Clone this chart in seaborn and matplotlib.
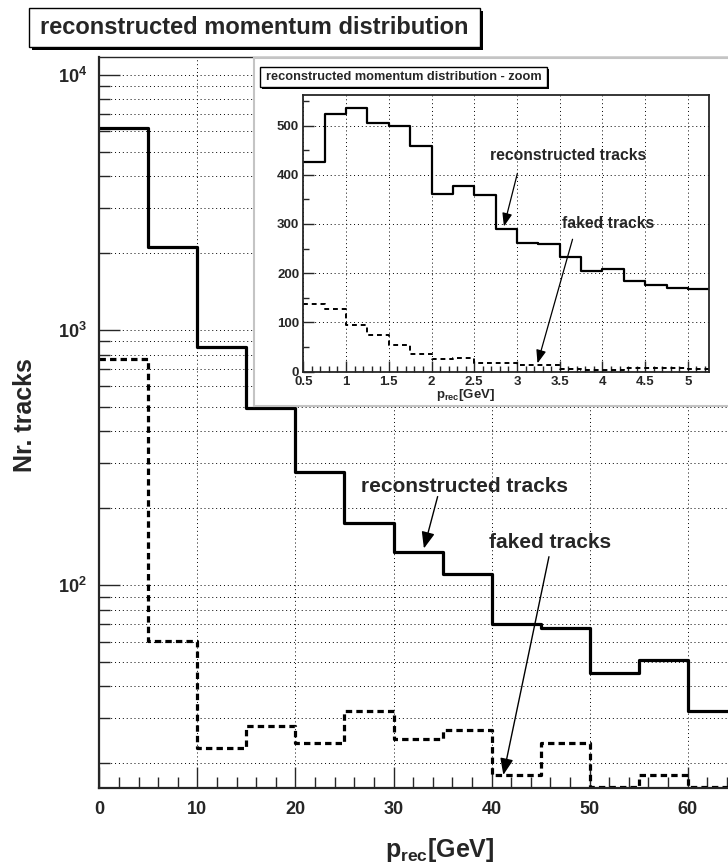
import numpy as np
import pandas as pd
import seaborn as sns
import matplotlib
matplotlib.use("Agg")
import matplotlib.pyplot as plt
from matplotlib.patches import Rectangle
from matplotlib.ticker import (MultipleLocator, FixedLocator, LogLocator,
                               NullFormatter, FuncFormatter)

# ---------------- data ----------------
main_edges = [0, 5, 10, 15, 20, 25, 30, 35, 40, 45, 50, 55, 60, 65]
main_reco = [6200, 2116, 860, 493, 278, 175, 134, 110, 70, 68, 45, 51, 32]
main_fake = [768, 60.5, 23, 28, 24, 32, 25, 27, 18, 24, 16.2, 18, 16.2]
main_xticks = [0, 10, 20, 30, 40, 50, 60]

zoom_edges = [0.5, 0.75, 1.0, 1.25, 1.5, 1.75, 2.0, 2.25, 2.5, 2.75, 3.0,
              3.25, 3.5, 3.75, 4.0, 4.25, 4.5, 4.75, 5.0, 5.25]
zoom_reco = [425, 523, 535, 505, 499, 459, 360, 377, 358, 289, 261, 260,
             232, 205, 208, 184, 176, 171, 168]
zoom_fake = [138, 128, 94, 75, 54, 36, 26, 28, 17, 17, 14, 14, 6, 4, 4, 7, 8, 7, 5]

title_main = "reconstructed momentum distribution"
title_zoom = "reconstructed momentum distribution - zoom"
lab_reco = "reconstructed tracks"
lab_fake = "faked tracks"

# ---------------- style ----------------
sns.set_style("ticks")
plt.rcParams["font.family"] = ["Liberation Sans", "DejaVu Sans"]
plt.rcParams["font.weight"] = "bold"
plt.rcParams["mathtext.fontset"] = "custom"
plt.rcParams["mathtext.rm"] = "Liberation Sans:bold"
plt.rcParams["mathtext.it"] = "Liberation Sans:bold"
plt.rcParams["mathtext.bf"] = "Liberation Sans:bold"

W, H = 728, 866
fig = plt.figure(figsize=(W / 100, H / 100), dpi=100)
fig.patch.set_facecolor("white")


def fx(px):
    return px / W


def fy(py):
    return 1 - py / H


def centers(edges):
    e = np.asarray(edges, dtype=float)
    return (e[:-1] + e[1:]) / 2


GRID = dict(color="black", lw=0.7, ls=(0, (1, 3)))

# ---------------- main axes ----------------
x0, xbot, ytop = 99.3, 788.3, 56.7
ppu = 9.807
ax = fig.add_axes([fx(x0), fy(xbot), 70 * ppu / W, (xbot - ytop) / H])
df_main = pd.DataFrame({"p": centers(main_edges), "reco": main_reco, "fake": main_fake})
sns.histplot(data=df_main, x="p", weights="reco", bins=main_edges, element="step",
             fill=False, color="black", linewidth=2.3, ax=ax)
sns.histplot(data=df_main, x="p", weights="fake", bins=main_edges, element="step",
             fill=False, color="black", linewidth=2.3, linestyle=(0, (2, 1.3)), ax=ax)
ax.set_yscale("log")
ax.set_xlim(0, 70)
ax.set_ylim(15.95, 11766)
ax.set_xlabel("")
ax.set_ylabel("")
ax.xaxis.set_major_locator(FixedLocator(main_xticks))
ax.xaxis.set_minor_locator(MultipleLocator(2))
ax.xaxis.set_major_formatter(FuncFormatter(lambda v, p: "%d" % v))
ax.yaxis.set_major_locator(LogLocator(base=10, numticks=10))
ax.yaxis.set_minor_locator(LogLocator(base=10, subs=np.arange(2, 10), numticks=20))
ax.yaxis.set_major_formatter(FuncFormatter(lambda v, p: r"$10^{%d}$" % round(np.log10(v))))
ax.yaxis.set_minor_formatter(NullFormatter())
ax.tick_params(which="major", direction="in", length=15, width=1, labelsize=13,
               top=False, right=False, pad=9)
ax.tick_params(which="minor", direction="in", length=8, width=1, top=False, right=False)
ax.grid(True, which="major", axis="both", **GRID)
ax.grid(True, which="minor", axis="y", **GRID)
ax.set_axisbelow(True)
for s in ["left", "bottom"]:
    ax.spines[s].set_linewidth(1.6)
ax.spines["top"].set_linewidth(1.0)
ax.spines["right"].set_visible(False)

ax.text(37.2, 244, lab_reco, ha="center", va="center", fontsize=15, fontweight="bold")
ax.annotate("", xy=(33.1, 139), xytext=(34.5, 222),
            arrowprops=dict(arrowstyle="-|>,head_length=1.0,head_width=0.4",
                            color="black", lw=1, shrinkA=0, shrinkB=0, mutation_scale=10))
ax.text(46.0, 146, lab_fake, ha="center", va="center", fontsize=15, fontweight="bold")
ax.annotate("", xy=(41.2, 18.0), xytext=(45.85, 129),
            arrowprops=dict(arrowstyle="-|>,head_length=1.0,head_width=0.4",
                            color="black", lw=1, shrinkA=0, shrinkB=0, mutation_scale=10))

fig.text(fx(25), fy(415), "Nr. tracks", rotation=90, ha="center", va="center",
         fontsize=18, fontweight="bold")
fig.text(fx(440), fy(850), r"$p_{rec}$[GeV]", ha="center", va="center",
         fontsize=18, fontweight="bold")

# ---------------- title box ----------------
def title_box(x1, y1, x2, y2, text, size, sh=3):
    fig.add_artist(Rectangle((fx(x1 + sh), fy(y2 + sh)), fx(x2 - x1), (y2 - y1) / H,
                             transform=fig.transFigure, facecolor="black",
                             edgecolor="none", zorder=10))
    fig.add_artist(Rectangle((fx(x1), fy(y2)), fx(x2 - x1), (y2 - y1) / H,
                             transform=fig.transFigure, facecolor="white",
                             edgecolor="black", lw=1, zorder=11))
    fig.text(fx((x1 + x2) / 2), fy((y1 + y2) / 2), text, ha="center", va="center",
             fontsize=size, fontweight="bold", zorder=12)


title_box(29, 8, 480, 47, title_main, 17)

# ---------------- inset pad ----------------
pad = fig.add_axes([fx(254.3), fy(406), fx(800 - 254.3), (406 - 58) / H])
pad.set_zorder(1)
pad.set_facecolor("white")
pad.set_xticks([])
pad.set_yticks([])
for s in pad.spines.values():
    s.set_color("#c4c4c4")
    s.set_linewidth(1.5)

# ---------------- inset axes ----------------
ix1, iy1, ix2, iy2 = 303.3, 95, 709.3, 371.7
ax2 = fig.add_axes([fx(ix1), fy(iy2), (ix2 - ix1) / W, (iy2 - iy1) / H])
ax2.set_zorder(2)
df_zoom = pd.DataFrame({"p": centers(zoom_edges), "reco": zoom_reco, "fake": zoom_fake})
sns.histplot(data=df_zoom, x="p", weights="reco", bins=zoom_edges, element="step",
             fill=False, color="black", linewidth=1.6, ax=ax2)
sns.histplot(data=df_zoom, x="p", weights="fake", bins=zoom_edges, element="step",
             fill=False, color="black", linewidth=1.4, linestyle=(0, (2.5, 2)), ax=ax2)
ax2.set_xlim(0.5, 5.25)
ax2.set_ylim(0, 562)
ax2.set_xlabel("")
ax2.set_ylabel("")
ax2.xaxis.set_major_locator(MultipleLocator(0.5))
ax2.xaxis.set_minor_locator(MultipleLocator(0.1))
ax2.xaxis.set_major_formatter(FuncFormatter(lambda v, p: "%g" % v))
ax2.yaxis.set_major_locator(MultipleLocator(100))
ax2.yaxis.set_minor_locator(MultipleLocator(50))
ax2.tick_params(which="major", direction="in", length=8, width=1, labelsize=9.5,
                top=False, right=False, pad=3)
ax2.tick_params(which="minor", direction="in", length=4, width=1, top=False, right=False)
ax2.grid(True, which="major", axis="both", **GRID)
ax2.set_axisbelow(True)
for s in ax2.spines.values():
    s.set_linewidth(1.3)

ax2.text(3.595, 440, lab_reco, ha="center", va="center", fontsize=11.3, fontweight="bold")
ax2.annotate("", xy=(2.847, 295), xytext=(3.005, 403),
             arrowprops=dict(arrowstyle="-|>,head_length=0.8,head_width=0.3",
                             color="black", lw=0.9, shrinkA=0, shrinkB=0, mutation_scale=10))
ax2.text(4.065, 300, lab_fake, ha="center", va="center", fontsize=11.3, fontweight="bold")
ax2.annotate("", xy=(3.24, 17), xytext=(3.65, 269),
             arrowprops=dict(arrowstyle="-|>,head_length=0.8,head_width=0.3",
                             color="black", lw=0.9, shrinkA=0, shrinkB=0, mutation_scale=10))

fig.text(fx(466), fy(395), r"$p_{rec}$[GeV]", ha="center", va="center",
         fontsize=9.5, fontweight="bold", zorder=12)

title_box(260, 66.7, 547, 86.7, title_zoom, 9.2, sh=2)

fig.savefig("out.png", dpi=100, facecolor="white")
